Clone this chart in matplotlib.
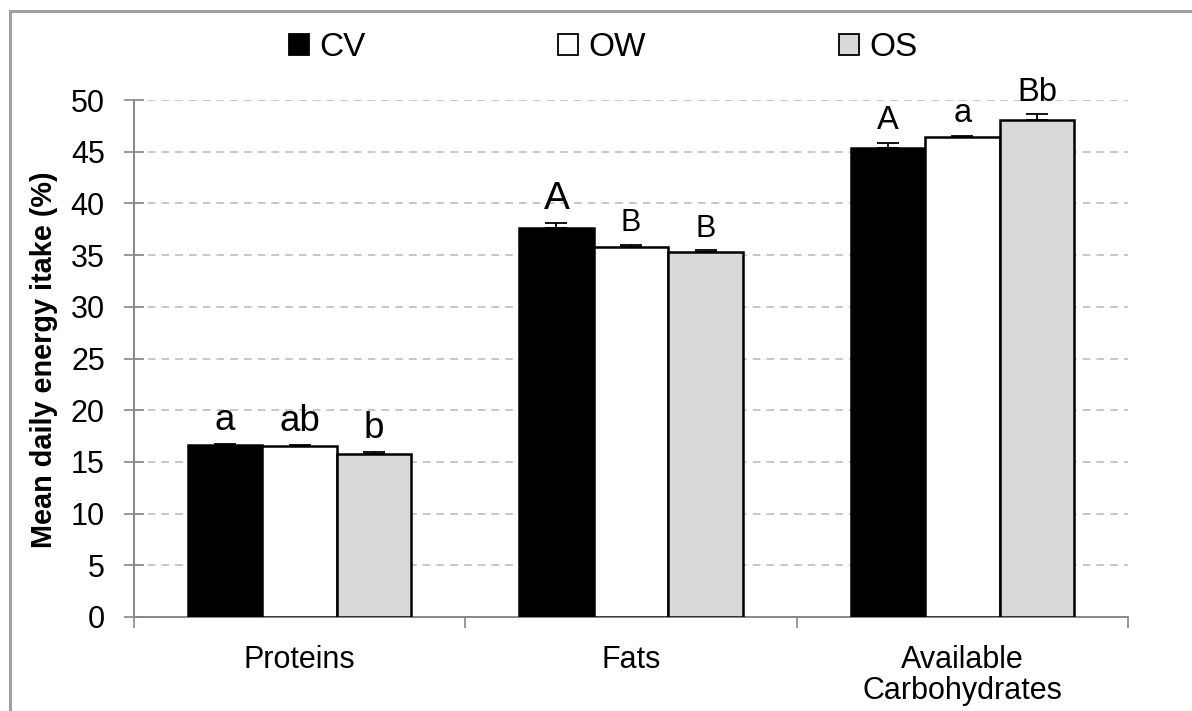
import matplotlib
matplotlib.use("Agg")
import matplotlib.pyplot as plt
import numpy as np
from matplotlib.patches import Rectangle, Patch

plt.rcParams['font.family'] = ['Liberation Sans', 'DejaVu Sans']

categories = ["Proteins", "Fats", "Available\nCarbohydrates"]
groups = ["CV", "OW", "OS"]
values = {
    "CV": [16.6, 37.6, 45.4],
    "OW": [16.5, 35.8, 46.4],
    "OS": [15.8, 35.3, 48.1],
}
errors = {
    "CV": [0.15, 0.5, 0.45],
    "OW": [0.1, 0.15, 0.15],
    "OS": [0.15, 0.15, 0.5],
}
letters = {
    "CV": ["a", "A", "A"],
    "OW": ["ab", "B", "a"],
    "OS": ["b", "B", "Bb"],
}
letter_sizes = {
    "CV": [26.5, 28, 23.5],
    "OW": [26.5, 22, 23.5],
    "OS": [26.5, 22, 23.5],
}
colors = {"CV": "#000000", "OW": "#ffffff", "OS": "#d9d9d9"}
yticks = [0, 5, 10, 15, 20, 25, 30, 35, 40, 45, 50]

fig = plt.figure(figsize=(11.92, 7.11), dpi=100)
ax = fig.add_axes([134/1192, 1-617/711, (1128-134)/1192, (617-100)/711])

x = np.arange(len(categories))
w = 0.225
for i, g in enumerate(groups):
    pos = x + (i - 1) * w
    ax.bar(pos, values[g], width=w, color=colors[g], edgecolor="black",
           linewidth=1.8, zorder=3, label=g)
    ax.errorbar(pos, values[g], yerr=[np.zeros(3), errors[g]], fmt="none",
                ecolor="black", elinewidth=1.3, capsize=8, capthick=1.3, zorder=4)
    for j in range(3):
        ax.annotate(letters[g][j], (pos[j], values[g][j] + errors[g][j]),
                    xytext=(0, 10), textcoords="offset points",
                    ha="center", va="baseline", fontsize=letter_sizes[g][j], zorder=5)

ax.set_xlim(-0.5, 2.5)
ax.set_ylim(0, 50)
ax.set_yticks(yticks)
ax.set_yticklabels([str(t) for t in yticks], fontsize=22)
ax.set_xticks(x)
ax.set_xticklabels(categories, fontsize=22, linespacing=1.05)
ax.tick_params(axis="x", length=0, pad=20)
ax.set_xticks([-0.5, 0.5, 1.5, 2.5], minor=True)
ax.tick_params(axis="x", which="minor", length=8, width=1.2, color="#888888")
ax.tick_params(axis="y", direction="inout", length=14, width=1.2, color="#888888", pad=14)
ax.yaxis.grid(True, linestyle=(0, (5, 4)), color="#b8b8b8", linewidth=1.1, zorder=0)
ax.set_axisbelow(True)
for s in ["top", "right"]:
    ax.spines[s].set_visible(False)
for s in ["left", "bottom"]:
    ax.spines[s].set_color("#888888")
    ax.spines[s].set_linewidth(1.4)

fig.text(44/1192, 1-360/711, "Mean daily energy itake (%)", rotation=90,
         ha="center", va="center", fontsize=20.8, fontweight="bold")

handles = [Patch(facecolor=colors[g], edgecolor="black", linewidth=1.3) for g in groups]
fig.legend(handles, groups, loc="center", bbox_to_anchor=(0.506, 1-47.5/711), ncol=3,
           frameon=False, fontsize=24, handlelength=0.6, handleheight=0.6,
           handletextpad=0.3, columnspacing=5.8, borderpad=0, borderaxespad=0)

fig.patches.append(Rectangle((10/1192, -0.1), 1.2, 1.1 - 11/711, transform=fig.transFigure,
                             fill=False, edgecolor="#a0a0a0", linewidth=2.2))

fig.savefig("out.png", dpi=100)
